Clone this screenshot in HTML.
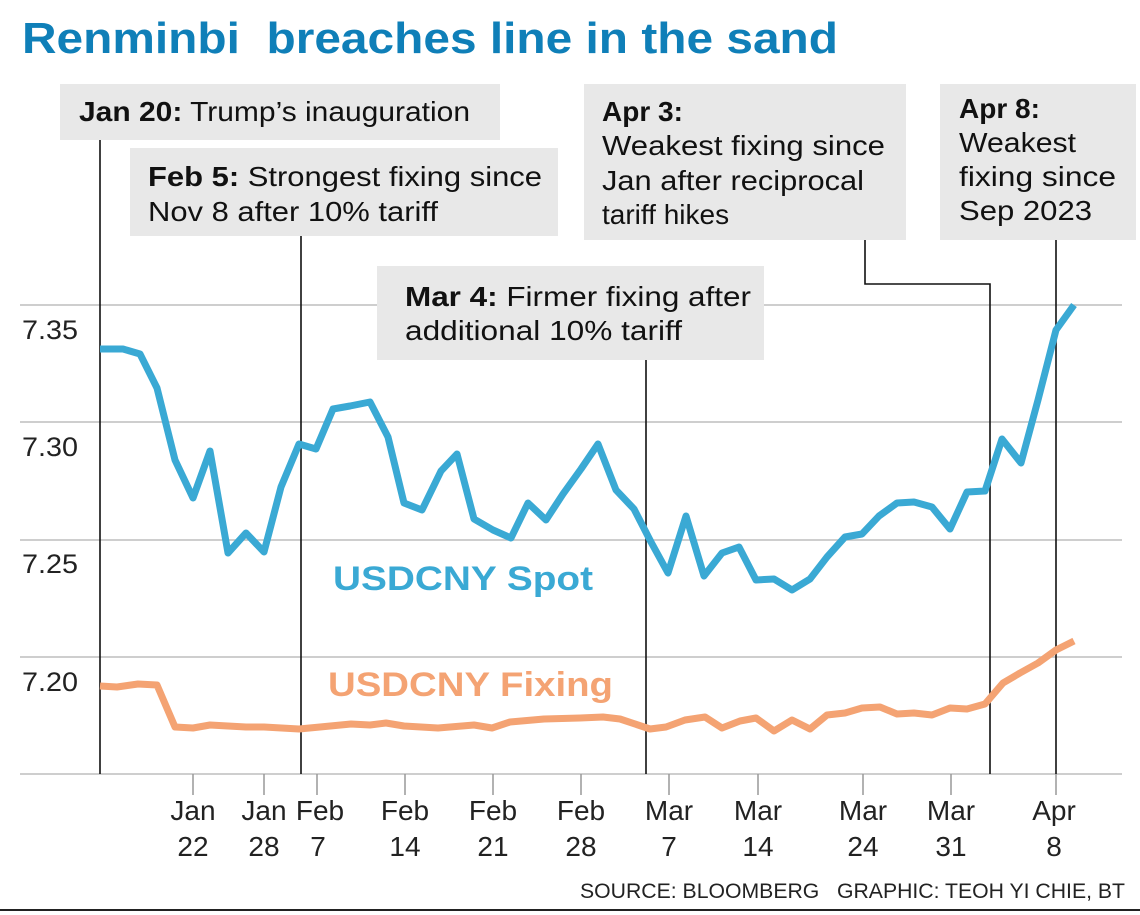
<!DOCTYPE html>
<html><head><meta charset="utf-8"><style>
html,body{margin:0;padding:0;background:#fff;}
svg{display:block;font-family:"Liberation Sans",sans-serif;}
</style></head><body>
<svg width="1140" height="915" viewBox="0 0 1140 915" xmlns="http://www.w3.org/2000/svg">
<rect width="1140" height="915" fill="#fff"/>
<text x="22" y="53" font-size="44" font-weight="bold" fill="#0f7fb8" textLength="816" lengthAdjust="spacingAndGlyphs">Renminbi&#160; breaches line in the sand</text>
<g stroke="#bdbdbd" stroke-width="1.5">
<line x1="20" y1="305" x2="1122" y2="305"/>
<line x1="20" y1="422" x2="1122" y2="422"/>
<line x1="20" y1="540" x2="1122" y2="540"/>
<line x1="20" y1="657" x2="1122" y2="657"/>
<line x1="20" y1="774" x2="1122" y2="774"/>
</g>
<g font-size="27" fill="#222">
<text x="22" y="339" textLength="56" lengthAdjust="spacingAndGlyphs">7.35</text>
<text x="22" y="456" textLength="56" lengthAdjust="spacingAndGlyphs">7.30</text>
<text x="22" y="573" textLength="56" lengthAdjust="spacingAndGlyphs">7.25</text>
<text x="22" y="691" textLength="56" lengthAdjust="spacingAndGlyphs">7.20</text>
</g>
<g stroke="#999" stroke-width="1.5">
<line x1="193" y1="774" x2="193" y2="795"/><line x1="264" y1="774" x2="264" y2="795"/>
<line x1="317" y1="774" x2="317" y2="795"/><line x1="405" y1="774" x2="405" y2="795"/>
<line x1="493" y1="774" x2="493" y2="795"/><line x1="581" y1="774" x2="581" y2="795"/>
<line x1="669" y1="774" x2="669" y2="795"/><line x1="758" y1="774" x2="758" y2="795"/>
<line x1="863" y1="774" x2="863" y2="795"/><line x1="951" y1="774" x2="951" y2="795"/>
<line x1="1056" y1="774" x2="1056" y2="795"/>
</g>
<g font-size="28" fill="#222" text-anchor="middle">
<text x="193" y="820">Jan</text><text x="193" y="856">22</text>
<text x="264" y="820">Jan</text><text x="264" y="856">28</text>
<text x="320" y="820">Feb</text><text x="318" y="856">7</text>
<text x="405" y="820">Feb</text><text x="405" y="856">14</text>
<text x="493" y="820">Feb</text><text x="493" y="856">21</text>
<text x="581" y="820">Feb</text><text x="581" y="856">28</text>
<text x="669" y="820">Mar</text><text x="669" y="856">7</text>
<text x="758" y="820">Mar</text><text x="758" y="856">14</text>
<text x="863" y="820">Mar</text><text x="863" y="856">24</text>
<text x="951" y="820">Mar</text><text x="951" y="856">31</text>
<text x="1054" y="820">Apr</text><text x="1054" y="856">8</text>
</g>
<text x="580" y="898" font-size="21" fill="#222" textLength="545" lengthAdjust="spacingAndGlyphs">SOURCE: BLOOMBERG&#160;&#160; GRAPHIC: TEOH YI CHIE, BT</text>
<line x1="0" y1="910" x2="1140" y2="910" stroke="#222" stroke-width="2"/>
<g stroke="#111" stroke-width="1.6" fill="none">
<line x1="100" y1="140" x2="100" y2="774"/>
<line x1="301" y1="236" x2="301" y2="774"/>
<line x1="646" y1="360" x2="646" y2="774"/>
<polyline points="865,240 865,284 990,284 990,774"/>
<line x1="1056" y1="240" x2="1056" y2="774"/>
</g>
<polyline fill="none" stroke="#f4a373" stroke-width="7" stroke-linejoin="round" points="100,686 117,687 138,684 157,685 175,727 193,728 210,725 228,726 246,727 264,727 299,729 320,727 351,724 370,725 386,723 404,726 438,728 474,725 492,728 510,722 544,719 580,718 603,717 620,719 650,729 666,727 685,720 705,717 722,728 740,721 756,718 774,731 792,720 810,729 827,715 845,713 862,708 880,707 897,714 914,713 932,715 950,708 967,709 985,704 1003,683 1020,673 1038,663 1056,650 1074,641"/>
<polyline fill="none" stroke="#3aa9d4" stroke-width="7" stroke-linejoin="round" points="100,349 123,349 140,354 157,388 175,460 193,498 210,451 228,553 246,533 264,552 281,487 299,444 316,449 333,409 350,406 370,402 388,437 404,503 422,510 441,471 457,454 474,519 493,530 511,538 528,503 546,520 563,494 581,469 598,444 616,490 634,509 651,542 668,573 686,516 704,576 722,553 739,547 756,580 774,579 792,590 810,579 827,557 845,537 862,534 879,516 897,503 914,502 932,507 950,529 967,492 985,491 1002,439 1021,463 1038,400 1056,330 1074,305"/>
<text x="333" y="590" font-size="34" font-weight="bold" fill="#3aa9d4" textLength="260" lengthAdjust="spacingAndGlyphs">USDCNY Spot</text>
<text x="328" y="696" font-size="34" font-weight="bold" fill="#f4a373" textLength="285" lengthAdjust="spacingAndGlyphs">USDCNY Fixing</text>
<g fill="#e8e8e8">
<rect x="60" y="84" width="440" height="56"/>
<rect x="130" y="148" width="428" height="88"/>
<rect x="584" y="84" width="322" height="156"/>
<rect x="940" y="84" width="196" height="156"/>
<rect x="377" y="266" width="387" height="94"/>
</g>
<g font-size="28" fill="#111">
<text x="79" y="121" textLength="391" lengthAdjust="spacingAndGlyphs"><tspan font-weight="bold">Jan 20:</tspan> Trump’s inauguration</text>
<text x="148" y="186" textLength="394" lengthAdjust="spacingAndGlyphs"><tspan font-weight="bold">Feb 5:</tspan> Strongest fixing since</text>
<text x="148" y="221" textLength="290" lengthAdjust="spacingAndGlyphs">Nov 8 after 10% tariff</text>
<text x="602" y="121" font-weight="bold">Apr 3:</text>
<text x="602" y="155" textLength="283" lengthAdjust="spacingAndGlyphs">Weakest fixing since</text>
<text x="602" y="190" textLength="262" lengthAdjust="spacingAndGlyphs">Jan after reciprocal</text>
<text x="602" y="224">tariff hikes</text>
<text x="959" y="118" font-weight="bold">Apr 8:</text>
<text x="959" y="152" textLength="117" lengthAdjust="spacingAndGlyphs">Weakest</text>
<text x="959" y="186" textLength="157" lengthAdjust="spacingAndGlyphs">fixing since</text>
<text x="959" y="220" textLength="133" lengthAdjust="spacingAndGlyphs">Sep 2023</text>
<text x="405" y="306" textLength="346" lengthAdjust="spacingAndGlyphs"><tspan font-weight="bold">Mar 4:</tspan> Firmer fixing after</text>
<text x="405" y="340" textLength="277" lengthAdjust="spacingAndGlyphs">additional 10% tariff</text>
</g>
</svg>
</body></html>
